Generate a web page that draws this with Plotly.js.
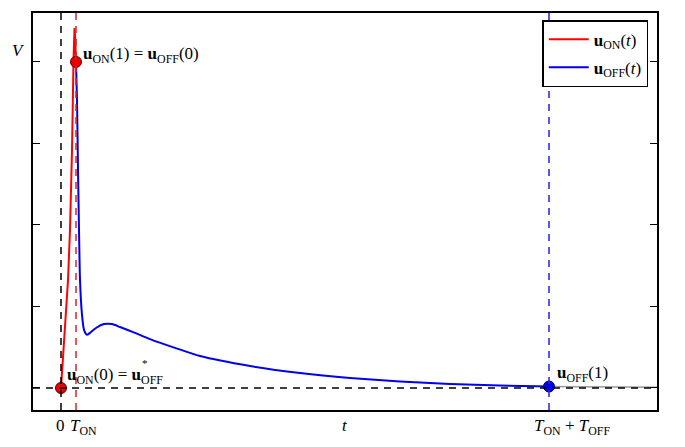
<!DOCTYPE html>
<html><head><meta charset="utf-8">
<script src="https://cdn.plot.ly/plotly-3.0.1.min.js"></script>
<style>html,body{margin:0;padding:0;background:#fff}</style>
</head><body>
<div id="chart" style="width:685px;height:447px"></div>
<script>
// time normalized so that T_ON + T_OFF = 1
const T_ON = 0.0307;
const T_END = 1.0;
const onT = [0, 0.00615, 0.01025, 0.01434, 0.01844, 0.02254, 0.02561, 0.02766, 0.0293, 0.0307];
const onV = [0, 0.147, 0.239, 0.331, 0.485, 0.730, 1.006, 1.104, 1.067, 1.0];
const offT = [0.0307, 0.03279, 0.03484, 0.03689, 0.03893, 0.04303, 0.04713, 0.05328, 0.05943, 0.0717, 0.0881, 0.1045, 0.1209, 0.1516, 0.1824, 0.2336, 0.2848, 0.3873, 0.4898, 0.5922, 0.6947, 0.7971, 0.8996, 1.0];
const offV = [1.0, 0.883, 0.669, 0.485, 0.331, 0.224, 0.178, 0.163, 0.169, 0.184, 0.196, 0.196, 0.187, 0.169, 0.150, 0.123, 0.098, 0.0675, 0.046, 0.0307, 0.020, 0.0123, 0.0077, 0.0046];
const tailT = [1.0, 1.25];
const tailV = [0.0046, 0.002];
const yTicks = [0, 0.25, 0.5, 0.75, 1.0];
const serif = 'Liberation Serif, DejaVu Serif, serif';

const data = [
  {x: onT, y: onV, mode: 'lines', name: '<b>u</b><sub>ON</sub>(<i>t</i>)', legendgroup: 'a', line: {color: '#ff0000', width: 2}},
  {x: offT, y: offV, mode: 'lines', name: '<b>u</b><sub>OFF</sub>(<i>t</i>)', legendgroup: 'b', line: {color: '#0000ee', width: 2, shape: 'spline', smoothing: 0.6}},
  {x: tailT, y: tailV, mode: 'lines', showlegend: false, line: {color: '#999999', width: 1.5}},
  {x: [0], y: [0], mode: 'markers', showlegend: false, marker: {color: '#ee0000', size: 11, line: {color: '#550000', width: 1}}},
  {x: [T_ON], y: [1.0], mode: 'markers', showlegend: false, marker: {color: '#ee0000', size: 11, line: {color: '#550000', width: 1}}},
  {x: [T_END], y: [0.0046], mode: 'markers', showlegend: false, marker: {color: '#0000ee', size: 11, line: {color: '#000055', width: 1}}}
];

const layout = {
  width: 685, height: 447,
  margin: {l: 33, r: 28, t: 13, b: 37},
  paper_bgcolor: '#fff', plot_bgcolor: '#fff',
  showlegend: true,
  legend: {x: 0.986, y: 0.982, xanchor: 'right', yanchor: 'top', bordercolor: '#000', borderwidth: 1.5,
           bgcolor: '#fff', itemwidth: 40, tracegroupgap: 3, font: {family: serif, size: 17, color: '#000'}},
  xaxis: {range: [-0.0574, 1.2213], showgrid: false, zeroline: false, showticklabels: false, ticks: '',
          showline: true, linecolor: '#000', linewidth: 2, mirror: true},
  yaxis: {range: [-0.0675, 1.150], showgrid: false, zeroline: false, showticklabels: false,
          tickvals: yTicks, ticks: 'inside', ticklen: 7, tickwidth: 1, tickcolor: '#000',
          showline: true, linecolor: '#000', linewidth: 2, mirror: 'ticks'},
  shapes: [
    {type: 'line', xref: 'x', yref: 'paper', x0: 0, x1: 0, y0: 0, y1: 1, line: {color: '#000', width: 1.5, dash: '7px,6px'}},
    {type: 'line', xref: 'x', yref: 'paper', x0: T_ON, x1: T_ON, y0: 0, y1: 1, line: {color: '#dd2222', width: 1.5, dash: '7px,6px'}},
    {type: 'line', xref: 'x', yref: 'paper', x0: T_END, x1: T_END, y0: 0, y1: 1, line: {color: '#2222dd', width: 1.5, dash: '7px,6px'}},
    {type: 'line', xref: 'paper', yref: 'y', x0: 0, x1: 1, y0: 0, y1: 0, line: {color: '#000', width: 1.5, dash: '7px,6px'}}
  ],
  annotations: [
    {x: 0, y: 0, xref: 'x', yref: 'paper', yanchor: 'top', yshift: -4, xshift: -1, showarrow: false, text: '0', font: {family: serif, size: 17, color: '#000'}},
    {x: T_ON, y: 0, xref: 'x', yref: 'paper', yanchor: 'top', yshift: -4, xshift: 8, showarrow: false, text: '<i>T</i><sub>ON</sub>', font: {family: serif, size: 17, color: '#000'}},
    {x: 0.5, y: 0, xref: 'paper', yref: 'paper', yanchor: 'top', yshift: -4, showarrow: false, text: '<i>t</i>', font: {family: serif, size: 17, color: '#000'}},
    {x: T_END, y: 0, xref: 'x', yref: 'paper', yanchor: 'top', yshift: -4, xshift: 23, showarrow: false, text: '<i>T</i><sub>ON</sub> + <i>T</i><sub>OFF</sub>', font: {family: serif, size: 17, color: '#000'}},
    {x: 0, y: 1.0, xref: 'paper', yref: 'y', xanchor: 'right', yshift: 11, xshift: -6, showarrow: false, text: '<i>V</i>', font: {family: serif, size: 17, color: '#000'}},
    {x: T_ON, y: 1.0, xref: 'x', yref: 'y', xanchor: 'left', xshift: 5, yshift: 7, showarrow: false, text: '<b>u</b><sub>ON</sub>(1) = <b>u</b><sub>OFF</sub>(0)', font: {family: serif, size: 17, color: '#000'}},
    {x: 0, y: 0, xref: 'x', yref: 'y', xanchor: 'left', xshift: 4, yshift: 12, showarrow: false, text: '<b>u</b><sub>ON</sub>(0) = <b>u</b><sub>OFF</sub>', font: {family: serif, size: 17, color: '#000'}},
    {x: 0, y: 0, xref: 'x', yref: 'y', xanchor: 'center', xshift: 84, yshift: 25, showarrow: false, text: '*', font: {family: serif, size: 11, color: '#000'}},
    {x: T_END, y: 0.0046, xref: 'x', yref: 'y', xanchor: 'left', xshift: 6, yshift: 12, showarrow: false, text: '<b>u</b><sub>OFF</sub>(1)', font: {family: serif, size: 17, color: '#000'}}
  ]
};
Plotly.newPlot('chart', data, layout, {displayModeBar: false, staticPlot: true});
</script>
</body></html>
